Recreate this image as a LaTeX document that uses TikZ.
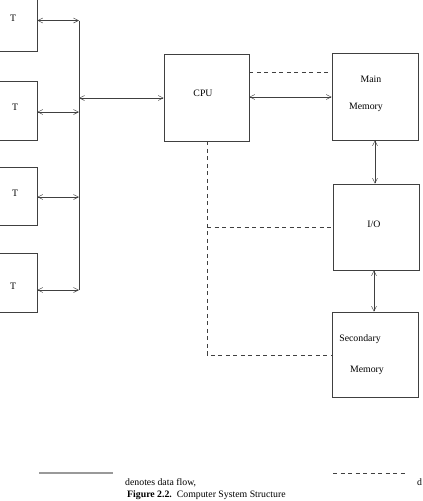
\documentclass[tikz,border=0pt]{standalone}
\usepackage{fontspec}
\setmainfont{Liberation Serif}
\usetikzlibrary{arrows.meta}
\begin{document}
\begin{tikzpicture}[x=1pt,y=-1pt,
  box/.style={draw=black!75,line width=0.6pt,minimum width=#1,inner sep=0pt},
  lbl/.style={inner sep=0pt,font=\fontsize{9.8}{11}\selectfont},
  flow/.style={draw=black!75,line width=0.5pt,{Straight Barb[length=5pt,width=5pt]}-{Straight Barb[length=5pt,width=5pt]}},
  ctrl/.style={draw=black!75,line width=0.5pt,dash pattern=on 4pt off 3.5pt}]
\useasboundingbox (0,0) rectangle (423,501);
% terminals
\node[box=46pt,minimum height=60pt] (t1) at (14,21) {};
\node[box=46pt,minimum height=59pt] (t2) at (14,110.5) {};
\node[box=46pt,minimum height=58pt] (t3) at (14,196) {};
\node[box=46pt,minimum height=59pt] (t4) at (14,282.5) {};
\node[lbl] (tl1) at (13,18) {T};
\node[lbl] (tl2) at (15,107) {T};
\node[lbl] (tl3) at (15,193) {T};
\node[lbl] (tl4) at (13,286) {T};
% bus
\coordinate (b1) at (79,20.5);
\coordinate (b2) at (79,112);
\coordinate (b3) at (79,197);
\coordinate (b4) at (79,290);
\coordinate (bc) at (79,98);
\draw[draw=black!75,line width=0.5pt] (b1) -- (b4);
\draw[flow] (t1.east |- b1) -- (b1);
\draw[flow] (t2.east |- b2) -- (b2);
\draw[flow] (t3.east |- b3) -- (b3);
\draw[flow] (t4.east |- b4) -- (b4);
% main boxes
\node[box=85pt,minimum height=87pt] (cpu) at (206.5,97.5) {};
\node[lbl] (cpul) at (203,93) {CPU};
\node[box=86pt,minimum height=87pt] (mm) at (375,96.5) {};
\node[lbl] (mml1) at (371,79) {Main};
\node[lbl] (mml2) at (366,107) {Memory};
\node[box=86pt,minimum height=86pt] (io) at (376,227) {};
\node[lbl] (iol) at (374,224) {I/O};
\node[box=86pt,minimum height=85pt] (sm) at (375,354.5) {};
\node[lbl] (sml1) at (360,339) {Secondary};
\node[lbl] (sml2) at (367,370) {Memory};
% data flow
\draw[flow] (bc) -- (bc -| cpu.west);
\draw[flow] (cpu.east |- 0,97) -- (mm.west |- 0,97);
\draw[flow] (mm.south -| 375,0) -- (io.north -| 375,0);
\draw[flow] (io.south -| 374,0) -- (sm.north -| 374,0);
% control flow
\coordinate (c1) at (207,227);
\coordinate (c2) at (207,355);
\draw[ctrl] (cpu.east |- 0,72) -- (mm.west |- 0,72);
\draw[ctrl] (cpu.south -| c2) -- (c2) -- (sm.west |- c2);
\draw[ctrl] (c1) -- (io.west |- c1);
% legend
\coordinate (l1) at (39,473);
\coordinate (l2) at (113,473);
\coordinate (l3) at (333,473);
\coordinate (l4) at (407,473);
\draw[black!40,line width=1.3pt] (l1) -- (l2);
\draw[ctrl] (l3) -- (l4);
\node[lbl,anchor=base west] (leg1) at (125,485) {denotes data flow,};
\node[lbl,anchor=base west] (leg2) at (417,485) {d};
\node[lbl,anchor=base west] (cap) at (127,497.5) {\textbf{Figure 2.2.}\ \ Computer System Structure};
\end{tikzpicture}
\end{document}
